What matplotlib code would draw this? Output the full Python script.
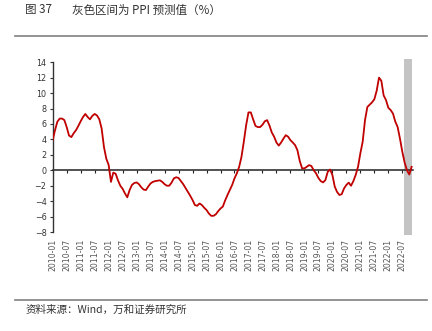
import matplotlib
matplotlib.use("Agg")
import matplotlib.pyplot as plt
import numpy as np
import pandas as pd

# Monthly PPI YoY (%) from 2010-01 to 2022-11 (last months = forecast)
ppi_values = [
    3.9, 5.2, 6.3, 6.7, 6.7, 6.5, 5.6, 4.5, 4.3, 4.8, 5.2, 5.75,          # 2010
    6.35, 6.9, 7.3, 6.9, 6.6, 7.05, 7.3, 7.1, 6.6, 5.4, 3.0, 1.5,         # 2011
    0.7, -1.5, -0.3, -0.45, -1.3, -2.0, -2.4, -3.0, -3.5, -2.56, -1.9, -1.65,  # 2012
    -1.57, -1.8, -2.2, -2.5, -2.56, -2.1, -1.7, -1.5, -1.4, -1.35, -1.3, -1.5,  # 2013
    -1.8, -2.0, -2.0, -1.6, -1.05, -0.9, -1.0, -1.4, -1.8, -2.3, -2.8, -3.3,   # 2014
    -3.85, -4.5, -4.6, -4.3, -4.5, -4.85, -5.15, -5.6, -5.9, -5.9, -5.7, -5.3,  # 2015
    -4.95, -4.7, -3.9, -3.2, -2.56, -1.9, -1.05, -0.4, 0.45, 1.75, 3.7, 5.85,   # 2016
    7.5, 7.5, 6.6, 5.75, 5.6, 5.6, 5.9, 6.35, 6.5, 5.8, 4.9, 4.35,              # 2017
    3.6, 3.2, 3.6, 4.1, 4.55, 4.35, 3.9, 3.6, 3.26, 2.6, 1.2, 0.25,             # 2018
    0.25, 0.45, 0.67, 0.55, 0.0, -0.4, -1.0, -1.4, -1.57, -1.27, -0.2, 0.1,    # 2019
    -0.6, -2.1, -2.8, -3.2, -3.1, -2.35, -1.9, -1.6, -2.0, -1.4, -0.6, 0.45,   # 2020
    2.2, 3.7, 6.5, 8.2, 8.5, 8.8, 9.2, 10.3, 12.0, 11.6, 9.7, 9.1,             # 2021
    8.1, 7.8, 7.35, 6.3, 5.6, 4.1, 2.4, 1.0, 0.0, -0.55, 0.45,                 # 2022
]
dates = pd.date_range("2010-01-01", periods=len(ppi_values), freq="MS")
tick_labels = [d.strftime("%Y-%m") for d in dates if d.month in (1, 7)]
tick_idx = [i for i, d in enumerate(dates) if d.month in (1, 7)]
forecast_start = 150.9
forecast_end = 154.1
y_ticks = [14, 12, 10, 8, 6, 4, 2, 0, -2, -4, -6, -8]

plt.rcParams['font.family'] = ['Noto Sans CJK SC', 'DejaVu Sans']
plt.rcParams['axes.unicode_minus'] = True

fig = plt.figure(figsize=(4.32, 3.31), dpi=100)
ax = fig.add_axes([0.122, 0.299, 0.833, 0.513])

x = np.arange(len(ppi_values))
ax.axvspan(forecast_start, forecast_end, ymin=-0.015, ymax=1.017,
           color="#c4c4c4", lw=0, zorder=1, clip_on=False)
ax.plot(x, ppi_values, color="#c00000", lw=1.3, zorder=3, solid_joinstyle="round")

ax.set_xlim(0, 154.4)
ax.set_ylim(-8, 14)
ax.set_yticks(y_ticks)
ax.set_yticklabels([str(v).replace('-', '\u2212') for v in y_ticks],
                   fontsize=5.8, color="#333333", family=['DejaVu Sans'])
ax.tick_params(axis='y', length=2.5, width=0.8, color="#333333", pad=2)

for s in ['top', 'right']:
    ax.spines[s].set_visible(False)
ax.spines['left'].set_color("#333333")
ax.spines['left'].set_linewidth(1.0)
ax.spines['bottom'].set_position(('data', 0))
ax.spines['bottom'].set_color("#222222")
ax.spines['bottom'].set_linewidth(1.1)
ax.spines['bottom'].set_zorder(2)
ax.set_xticks(tick_idx)
ax.tick_params(axis='x', length=2, width=0.8, color="#222222", labelbottom=False, direction='out')

sec = ax.secondary_xaxis(0)
sec.set_xticks(tick_idx)
sec.set_xticklabels(tick_labels, rotation=90, fontsize=5.6, color="#555555",
                    family=['DejaVu Sans'])
sec.tick_params(length=0, pad=5)
sec.spines['bottom'].set_visible(False)

fig.text(0.058, 0.97, "图 37", fontsize=8.3, color="#333333", va='center', ha='left',
         fontweight='light')
fig.text(0.166, 0.97, "灰色区间为 PPI 预测值（%）", fontsize=8.3, color="#333333",
         va='center', ha='left', fontweight='light')
fig.add_artist(plt.Line2D([0.035, 0.988], [0.892, 0.892], color="#808080", lw=1.2))
fig.add_artist(plt.Line2D([0.035, 0.988], [0.094, 0.094], color="#808080", lw=1.2))
fig.text(0.058, 0.063, "资料来源：Wind，万和证券研究所", fontsize=7.6, color="#333333",
         va='center', ha='left', fontweight='light')

fig.savefig("out.png", dpi=100)
